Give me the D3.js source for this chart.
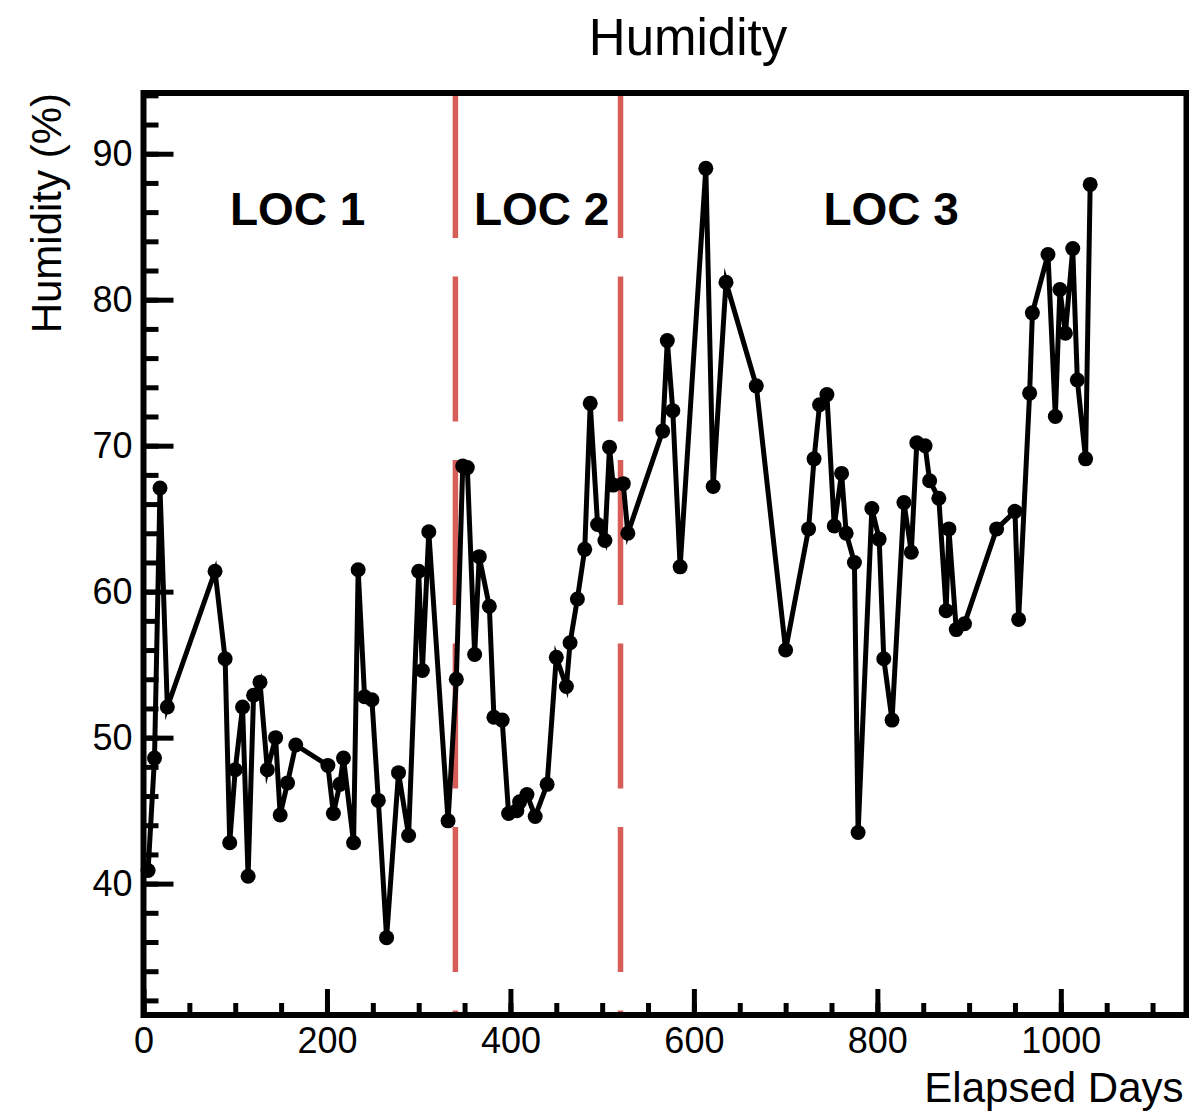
<!DOCTYPE html>
<html>
<head>
<meta charset="utf-8">
<script src="https://cdn.jsdelivr.net/npm/d3@7"></script>
<style>
  html, body { margin: 0; padding: 0; background: #fff; }
  svg { display: block; font-family: "Liberation Sans", Arial, Helvetica, sans-serif; }
</style>
</head>
<body>
<svg id="chart" width="1189" height="1116"></svg>
<script>
// Elapsed days of each humidity reading
const days = [
  5, 12, 18, 26, 78, 89, 94, 100, 108, 114, 120, 127, 135, 144, 149, 157, 166,
  201, 207, 214, 218, 229, 234, 241, 249, 256, 265, 278, 289, 300, 304, 311, 332, 341,
  348, 353, 361, 366, 377, 382, 391, 398, 407, 410, 418, 427, 440, 450, 461, 465,
  473, 481, 487, 495, 503, 508, 512, 523, 528, 566, 571, 577, 585, 613, 621, 635,
  668, 700, 725, 731, 737, 745, 753, 761, 766, 775, 779, 794, 802, 807, 816, 829,
  837, 843, 852, 857, 867, 875, 878, 886, 895, 930, 950, 954, 966, 969, 986, 994,
  999, 1005, 1013, 1018, 1027, 1032
];

// Relative humidity (%) measured on those days
const humidity = [
  40.9, 48.6, 67.1, 52.1, 61.4, 55.4, 42.8, 47.8, 52.1, 40.5, 52.9, 53.8, 47.8, 50.0, 44.7, 46.9, 49.5,
  48.1, 44.8, 46.8, 48.6, 42.8, 61.5, 52.8, 52.6, 45.7, 36.3, 47.6, 43.3, 61.4, 54.6, 64.1, 44.3, 54.0,
  68.6, 68.5, 55.7, 62.4, 59.0, 51.4, 51.2, 44.8, 45.0, 45.6, 46.1, 44.6, 46.8, 55.5, 53.5, 56.5,
  59.5, 62.9, 72.9, 64.6, 63.5, 69.9, 67.3, 67.4, 64.0, 71.0, 77.2, 72.4, 61.7, 89.0, 67.2, 81.2,
  74.1, 56.0, 64.3, 69.1, 72.8, 73.5, 64.5, 68.1, 64.0, 62.0, 43.5, 65.7, 63.6, 55.4, 51.2, 66.1,
  62.7, 70.2, 70.0, 67.6, 66.4, 58.7, 64.3, 57.4, 57.8, 64.3, 65.5, 58.1, 73.6, 79.1, 83.1, 72.0,
  80.7, 77.7, 83.5, 74.5, 69.1, 87.9
];

// Days on which the sensor was moved to a new location
const relocationDays = [340, 520];

// Location names and the day at which each name is centred
const locationNames = ["LOC 1", "LOC 2", "LOC 3"];
const locationLabelDays = [168, 434, 815];

// Axis ticks
const xMajorTicks = [0, 200, 400, 600, 800, 1000];
const xMinorTicks = d3.range(0, 1137, 50);
const yMajorTicks = [40, 50, 60, 70, 80, 90];
const yMinorTicks = d3.range(32, 95, 2);

const chartTitle = "Humidity";
const xTitle = "Elapsed Days";
const yTitle = "Humidity (%)";

// ---------------------------------------------------------------
const svg = d3.select("#chart");
const frame = { left: 143.5, right: 1186.5, top: 93, bottom: 1015 };

const x = d3.scaleLinear().domain([0, 1137]).range([frame.left, frame.right]);
const y = d3.scaleLinear().domain([31.0, 94.16]).range([frame.bottom, frame.top]);

const ink = "#000";
const tickWidth = 5;

// Location boundaries (dashed)
svg.append("g")
  .selectAll("line")
  .data(relocationDays)
  .join("line")
  .attr("x1", d => x(d)).attr("x2", d => x(d))
  .attr("y1", frame.top).attr("y2", frame.bottom)
  .attr("stroke", "#d75e58")
  .attr("stroke-width", 5.5)
  .attr("stroke-dasharray", "145,38.5");

// Humidity series
const points = days.map((d, i) => [d, humidity[i]]);
const line = d3.line().x(d => x(d[0])).y(d => y(d[1]));

svg.append("path")
  .datum(points)
  .attr("d", line)
  .attr("fill", "none")
  .attr("stroke", ink)
  .attr("stroke-width", 5)
  .attr("stroke-linejoin", "miter")
  .attr("stroke-miterlimit", 6);

svg.append("g")
  .selectAll("circle")
  .data(points)
  .join("circle")
  .attr("cx", d => x(d[0]))
  .attr("cy", d => y(d[1]))
  .attr("r", 7.5)
  .attr("fill", ink);

// Axes: major and minor ticks drawn inward
function styleAxis(g) {
  g.select(".domain").remove();
  g.selectAll(".tick line").attr("stroke", ink).attr("stroke-width", tickWidth);
  g.selectAll(".tick text").attr("fill", ink).attr("font-size", 36)
    .attr("font-family", "Liberation Sans, Arial, Helvetica, sans-serif");
}

svg.append("g")
  .attr("transform", `translate(0,${frame.bottom})`)
  .call(d3.axisBottom(x).tickValues(xMinorTicks).tickSize(-12).tickFormat(""))
  .call(styleAxis);

svg.append("g")
  .attr("transform", `translate(0,${frame.bottom})`)
  .call(d3.axisBottom(x).tickValues(xMajorTicks).tickSize(-26).tickPadding(12).tickFormat(d3.format("d")))
  .call(styleAxis);

svg.append("g")
  .attr("transform", `translate(${frame.left},0)`)
  .call(d3.axisLeft(y).tickValues(yMinorTicks).tickSize(-15).tickFormat(""))
  .call(styleAxis);

svg.append("g")
  .attr("transform", `translate(${frame.left},0)`)
  .call(d3.axisLeft(y).tickValues(yMajorTicks).tickSize(-30).tickPadding(11).tickFormat(d3.format("d")))
  .call(styleAxis);

// Frame
svg.append("rect")
  .attr("x", frame.left).attr("y", frame.top)
  .attr("width", frame.right - frame.left)
  .attr("height", frame.bottom - frame.top)
  .attr("fill", "none")
  .attr("stroke", ink)
  .attr("stroke-width", 6);

// Location labels
svg.append("g")
  .selectAll("text")
  .data(locationNames)
  .join("text")
  .attr("x", (d, i) => x(locationLabelDays[i]))
  .attr("y", 225)
  .attr("text-anchor", "middle")
  .attr("font-size", 46)
  .attr("font-weight", "bold")
  .attr("fill", ink)
  .text(d => d);

// Titles
svg.append("text")
  .attr("x", 688).attr("y", 55)
  .attr("text-anchor", "middle")
  .attr("font-size", 51)
  .attr("fill", ink)
  .text(chartTitle);

svg.append("text")
  .attr("x", frame.right - 3).attr("y", 1102)
  .attr("text-anchor", "end")
  .attr("font-size", 42)
  .attr("fill", ink)
  .text(xTitle);

svg.append("text")
  .attr("transform", `translate(61,${frame.top}) rotate(-90)`)
  .attr("text-anchor", "end")
  .attr("font-size", 42)
  .attr("fill", ink)
  .text(yTitle);
</script>
</body>
</html>
